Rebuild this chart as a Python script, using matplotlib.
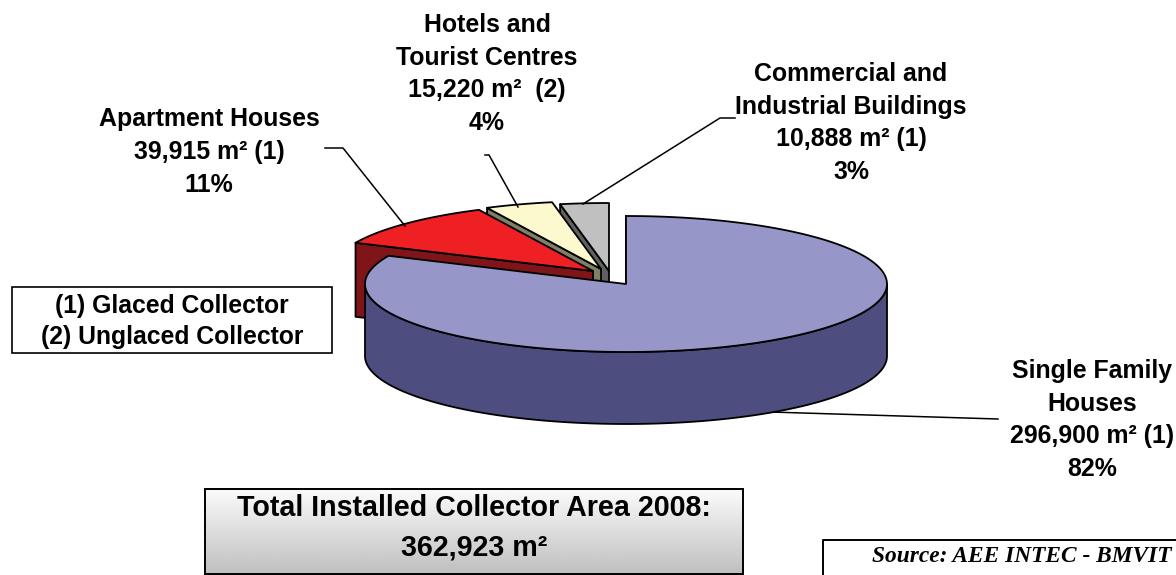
import numpy as np
import matplotlib
matplotlib.use("Agg")
import matplotlib.pyplot as plt
from matplotlib.patches import Rectangle

# ---- data ----
categories = ["Single Family\nHouses", "Apartment Houses", "Hotels and\nTourist Centres",
              "Commercial and\nIndustrial Buildings"]
areas = [296900, 39915, 15220, 10888]
area_labels = ["296,900 m² (1)", "39,915 m² (1)", "15,220 m²  (2)", "10,888 m² (1)"]
percent_labels = ["82%", "11%", "4%", "3%"]
legend_lines = ["(1) Glaced Collector", "(2) Unglaced Collector"]
total_lines = ["Total Installed Collector Area 2008:", "362,923 m²"]
source_text = "Source: AEE INTEC - BMVIT"

# ---- style / layout ----
top_colors = ["#9696C8", "#EE2024", "#FCF9CE", "#C0C0C0"]
side_colors = ["#4D4D80", "#7F1518", "#7F7F66", "#606060"]
centre = (626, 284)
rx, ry, depth = 261, 68, 72
slice_offsets = [(0, 0), (-33, -13), (-25, -15), (-17, -13)]
label_pos = [(1092, 420), (209, 152), (487, 74), (851, 123)]
leaders = [[(770, 412), (998, 419)],
           [(325, 148), (343, 148), (405, 226)],
           [(485, 155), (489, 155), (518, 207)],
           [(735, 118), (720, 118), (583, 204)]]
FONT = "Liberation Sans"

fig = plt.figure(figsize=(11.76, 5.75), dpi=100, facecolor="white")
ax = fig.add_axes([0, 0, 1, 1])
ax.set_xlim(0, 1176)
ax.set_ylim(575, 0)
ax.axis("off")


def rim(cx, cy, deg):
    a = np.radians(deg)          # clockwise from 12 o'clock
    return cx + rx * np.sin(a), cy - ry * np.cos(a)


shares = np.array(areas) / sum(areas) * 360
starts = np.concatenate([[0], np.cumsum(shares)[:-1]])

# painter's order: back slices first, the large front slice last
for i in [3, 2, 1, 0]:
    cx, cy = centre[0] + slice_offsets[i][0], centre[1] + slice_offsets[i][1]
    a0, a1 = starts[i], starts[i] + shares[i]
    th = np.linspace(a0, a1, 240)
    ex, ey = rim(cx, cy, th)
    # radial wall below the leading edge
    px, py = rim(cx, cy, a0)
    ax.fill([cx, px, px, cx], [cy, py, py + depth + 2, cy + depth + 2],
            fc=side_colors[i], ec="black", lw=1.3, joinstyle="round", zorder=2 + (3 - i) * 2)
    # outer wall on the near half of the ellipse
    lo, hi = max(a0, 90), min(a1, 270)
    if hi > lo:
        t2 = np.linspace(lo, hi, 200)
        wx, wy = rim(cx, cy, t2)
        ax.fill(np.r_[wx, wx[::-1]], np.r_[wy, wy[::-1] + depth],
                fc=side_colors[i], ec="black", lw=1.3, zorder=2 + (3 - i) * 2)
    # top face
    ax.fill(np.r_[cx, ex], np.r_[cy, ey], fc=top_colors[i], ec="black", lw=1.3,
            joinstyle="round", zorder=3 + (3 - i) * 2)

# leader lines
for pts in leaders:
    xs, ys = zip(*pts)
    ax.plot(xs, ys, color="black", lw=1.1, zorder=1 if pts is leaders[0] else 20)

# slice labels
for name, ar, pc, (x, y) in zip(categories, area_labels, percent_labels, label_pos):
    ax.text(x, y, f"{name}\n{ar}\n{pc}", ha="center", va="center", family=FONT,
            weight="bold", fontsize=17.9, linespacing=1.45, zorder=21)

# legend box
ax.add_patch(Rectangle((12, 287), 320, 66, fc="white", ec="black", lw=1.2, zorder=21))
ax.text(172, 321.5, "\n".join(legend_lines), ha="center", va="center", family=FONT,
        weight="bold", fontsize=17.8, linespacing=1.38, zorder=22)

# total box with a vertical gradient
grad = np.linspace(0.98, 0.75, 64).reshape(-1, 1)
ax.imshow(grad, extent=(205, 743, 574, 489), cmap="gray", vmin=0, vmax=1,
          aspect="auto", zorder=21)
ax.set_xlim(0, 1176)
ax.set_ylim(575, 0)
ax.add_patch(Rectangle((205, 489), 538, 85, fc="none", ec="black", lw=1.4, zorder=22))
ax.text(474, 527.5, "\n".join(total_lines), ha="center", va="center", family=FONT,
        weight="bold", fontsize=20.6, linespacing=1.52, zorder=23)

# source box (runs off the canvas)
ax.plot([823, 823, 1176], [575, 540, 540], color="black", lw=1.4, zorder=21)
ax.text(1022, 556, source_text, ha="center", va="center", family="Liberation Serif",
        style="italic", weight="bold", fontsize=16.8, zorder=22)

fig.savefig("out.png", dpi=100)
